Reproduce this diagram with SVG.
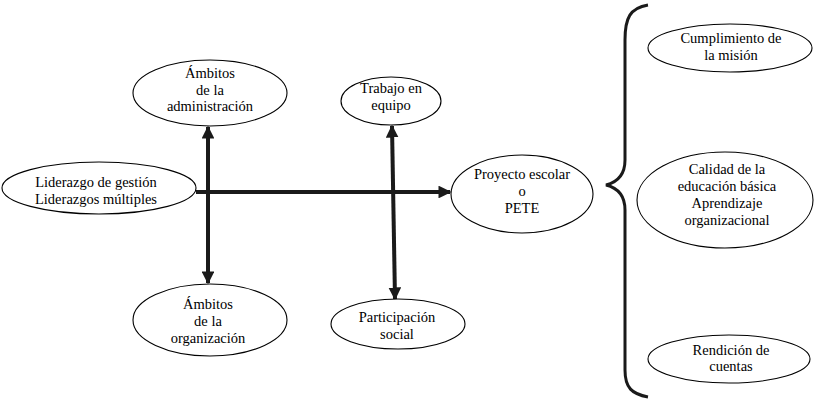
<svg xmlns="http://www.w3.org/2000/svg" width="817" height="403" viewBox="0 0 817 403">
<style>
.n ellipse{fill:#fff;stroke:#000;stroke-width:1.1}
.n text{font-family:"Liberation Serif","Times New Roman",serif;font-size:14.5px;fill:#000;text-anchor:middle}
.c line{stroke:#1a1a1a;stroke-width:4}
</style>
<defs>
<marker id="ah" viewBox="0 0 10 10" refX="9" refY="5" markerWidth="3.2" markerHeight="3.2" orient="auto-start-reverse" markerUnits="strokeWidth">
<path d="M0,0 L10,5 L0,10 Z" fill="#1a1a1a"/>
</marker>
</defs>
<rect width="817" height="403" fill="#fff"/>
<g class="c" id="connectors">
<line x1="196" y1="192" x2="450" y2="192" marker-end="url(#ah)"/>
<line x1="208" y1="127" x2="208" y2="283" marker-start="url(#ah)" marker-end="url(#ah)"/>
<line x1="392" y1="126" x2="395" y2="299" marker-start="url(#ah)" marker-end="url(#ah)"/>
</g>
<g class="n" id="liderazgo">
<ellipse cx="99" cy="188" rx="97" ry="26"/>
<text x="96" y="187">Liderazgo de gestión</text>
<text x="96" y="204">Liderazgos múltiples</text>
</g>
<g class="n" id="ambitos-admin">
<ellipse cx="210" cy="93" rx="77" ry="33"/>
<text x="210" y="78">Ámbitos</text>
<text x="210" y="95">de la</text>
<text x="210" y="111">administración</text>
</g>
<g class="n" id="ambitos-org">
<ellipse cx="210" cy="320" rx="77" ry="36"/>
<text x="208" y="309">Ámbitos</text>
<text x="208" y="326">de la</text>
<text x="208" y="343">organización</text>
</g>
<g class="n" id="trabajo">
<ellipse cx="391" cy="101" rx="50" ry="24"/>
<text x="391" y="93">Trabajo en</text>
<text x="391" y="110">equipo</text>
</g>
<g class="n" id="participacion">
<ellipse cx="398" cy="324" rx="67" ry="25"/>
<text x="397" y="322">Participación</text>
<text x="397" y="339">social</text>
</g>
<g class="n" id="proyecto">
<ellipse cx="522" cy="194" rx="71" ry="39"/>
<text x="522" y="179">Proyecto escolar</text>
<text x="522" y="196">o</text>
<text x="522" y="213">PETE</text>
</g>
<g id="bracket">
<path d="M648,5 C630,8 625,18 625,40 L625,160 C625,175 618,182 606,185 C618,188 625,195 625,210 L625,370 C625,388 632,394 648,397" fill="none" stroke="#1a1a1a" stroke-width="3"/>
</g>
<g class="n" id="cumplimiento">
<ellipse cx="730" cy="48" rx="82" ry="24"/>
<text x="731" y="43">Cumplimiento de</text>
<text x="731" y="60">la misión</text>
</g>
<g class="n" id="calidad">
<ellipse cx="725" cy="200" rx="88" ry="48"/>
<text x="727" y="174">Calidad de la</text>
<text x="727" y="191">educación básica</text>
<text x="727" y="208">Aprendizaje</text>
<text x="727" y="225">organizacional</text>
</g>
<g class="n" id="rendicion">
<ellipse cx="729" cy="359" rx="81" ry="24"/>
<text x="731" y="355">Rendición de</text>
<text x="731" y="371">cuentas</text>
</g>
</svg>
